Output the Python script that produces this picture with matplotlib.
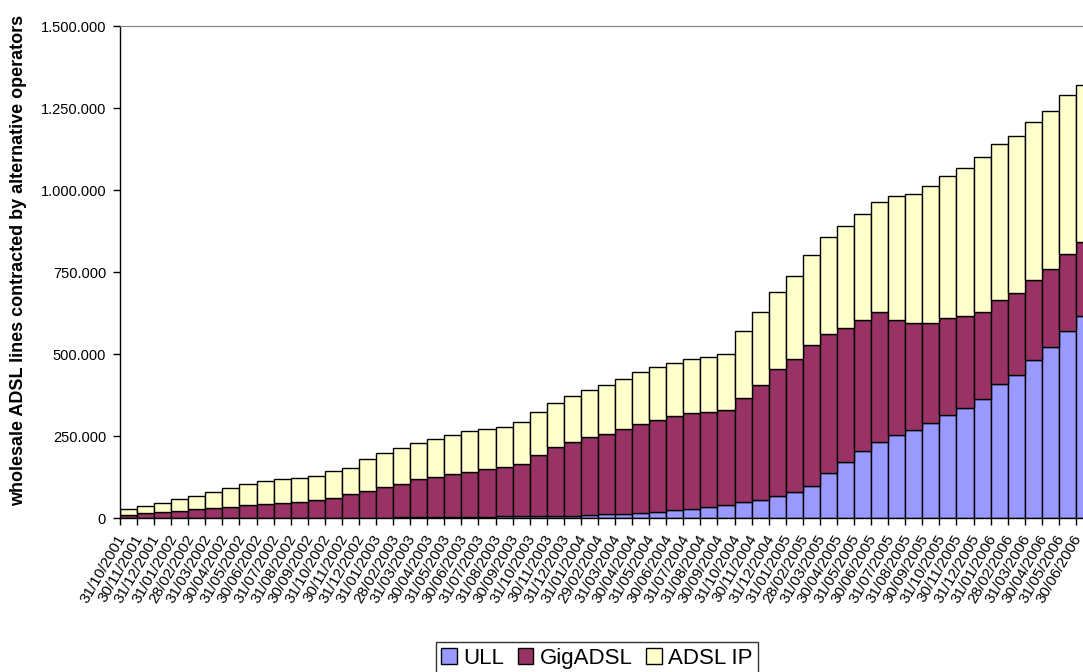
import matplotlib
matplotlib.use("Agg")
import matplotlib.pyplot as plt
import matplotlib.transforms as mtransforms
from matplotlib.ticker import FuncFormatter, FixedLocator
import numpy as np

plt.rcParams['font.family'] = ['Liberation Sans', 'DejaVu Sans']

# month-end dates, Oct 2001 .. Jun 2006
dates = [
    "31/10/2001", "30/11/2001", "31/12/2001",
    "31/01/2002", "28/02/2002", "31/03/2002", "30/04/2002", "31/05/2002", "30/06/2002",
    "31/07/2002", "31/08/2002", "30/09/2002", "31/10/2002", "30/11/2002", "31/12/2002",
    "31/01/2003", "28/02/2003", "31/03/2003", "30/04/2003", "31/05/2003", "30/06/2003",
    "31/07/2003", "31/08/2003", "30/09/2003", "31/10/2003", "30/11/2003", "31/12/2003",
    "31/01/2004", "29/02/2004", "31/03/2004", "30/04/2004", "31/05/2004", "30/06/2004",
    "31/07/2004", "31/08/2004", "30/09/2004", "31/10/2004", "30/11/2004", "31/12/2004",
    "31/01/2005", "28/02/2005", "31/03/2005", "30/04/2005", "31/05/2005", "30/06/2005",
    "31/07/2005", "31/08/2005", "30/09/2005", "31/10/2005", "30/11/2005", "31/12/2005",
    "31/01/2006", "28/02/2006", "31/03/2006", "30/04/2006", "31/05/2006", "30/06/2006",
]

ull = [
    0, 0, 0, 0, 0, 0, 0, 0, 0, 0, 0, 0,
    500, 800, 1000, 1500, 2000, 2500, 3000, 3500, 4000, 4500, 5000, 5500,
    6000, 6500, 7500, 8000, 11000, 12500, 15500, 18500, 23400, 26500, 34000, 39600,
    48800, 53900, 68000, 79300, 97600, 138100, 171700, 203400, 231700, 254000, 269200, 289700,
    314000, 336300, 363700, 409500, 436000, 482700, 522300, 571100, 615900,
]

gigadsl = [
    9000, 15000, 18300, 22300, 28400, 30500, 33500, 39600, 43700, 46700, 47800, 53900,
    61500, 71500, 82300, 93000, 102600, 115500, 122000, 129700, 135300, 144900, 150500, 159100,
    186100, 209000, 225200, 238000, 246000, 257900, 271100, 280300, 287600, 292700, 290200, 289200,
    316200, 352600, 386300, 406500, 429900, 422900, 408600, 400300, 395400, 349700, 326300, 305800,
    295800, 279600, 263400, 255200, 249100, 243900, 236900, 233900, 226500,
]

adsl_ip = [
    17500, 21600, 26500, 35600, 37700, 48800, 57000, 65000, 69100, 71300, 75100, 75100,
    82300, 80200, 95600, 103700, 109800, 109700, 116800, 120800, 126900, 122900, 122900, 127200,
    132100, 136100, 139300, 143300, 148500, 154300, 159500, 162500, 161600, 164600, 166700, 171700,
    204200, 222600, 235800, 253000, 275300, 296700, 310900, 324100, 337300, 379000, 393300, 417700,
    433000, 452200, 474600, 475600, 480500, 480800, 480800, 484700, 478800,
]

series = ["ULL", "GigADSL", "ADSL IP"]
colors = ["#9999FF", "#993366", "#FFFFCC"]

fig = plt.figure(figsize=(10.83, 6.72), dpi=100)
# plot area runs past the right edge of the picture, as in the original
ax = fig.add_axes([120 / 1083, 1 - 518 / 672, 973 / 1083, 492 / 672])

x = np.arange(len(dates))
bottom = np.zeros(len(dates))
for name, vals, c in zip(series, [ull, gigadsl, adsl_ip], colors):
    ax.bar(x, vals, width=1.0, bottom=bottom, color=c, edgecolor="black",
           linewidth=1.0, label=name)
    bottom += np.array(vals)

ax.set_xlim(-0.5, len(dates) - 0.5)
ax.set_ylim(0, 1500000)
ax.set_yticks(np.arange(0, 1500001, 250000))
ax.yaxis.set_major_formatter(FuncFormatter(lambda v, p: f"{int(v):,}".replace(",", ".")))
ax.tick_params(axis="y", direction="out", length=5, width=1, labelsize=10.5, pad=5)

ax.set_xticks(x)
ax.set_xticklabels(dates, rotation=60, ha="right", va="center", rotation_mode="anchor",
                   fontsize=11)
ax.tick_params(axis="x", which="major", length=0, pad=13)
ax.xaxis.set_minor_locator(FixedLocator(np.arange(-0.5, len(dates), 1)))
ax.tick_params(axis="x", which="minor", direction="out", length=5, width=1)
shift = mtransforms.ScaledTranslation(-6 / 100, 0, fig.dpi_scale_trans)
for lab in ax.get_xticklabels():
    lab.set_transform(lab.get_transform() + shift)

ax.spines["right"].set_visible(False)
ax.spines["top"].set_color("#808080")
ax.spines["left"].set_linewidth(1)
ax.spines["bottom"].set_linewidth(1)

ax.set_ylabel("wholesale ADSL lines contracted by alternative operators",
              fontsize=13, fontweight="bold")
ax.yaxis.set_label_coords(-0.096, 0.524)

leg = fig.legend(loc="upper center", bbox_to_anchor=(597 / 1083, 1 - 642 / 672), ncol=3,
                 fontsize=16, frameon=True, fancybox=False, handlelength=0.7,
                 handleheight=0.7, handletextpad=0.3, columnspacing=0.6,
                 borderpad=0.25, borderaxespad=0)
leg.get_frame().set_edgecolor("black")
leg.get_frame().set_linewidth(1)

fig.savefig("out.png", dpi=100)
